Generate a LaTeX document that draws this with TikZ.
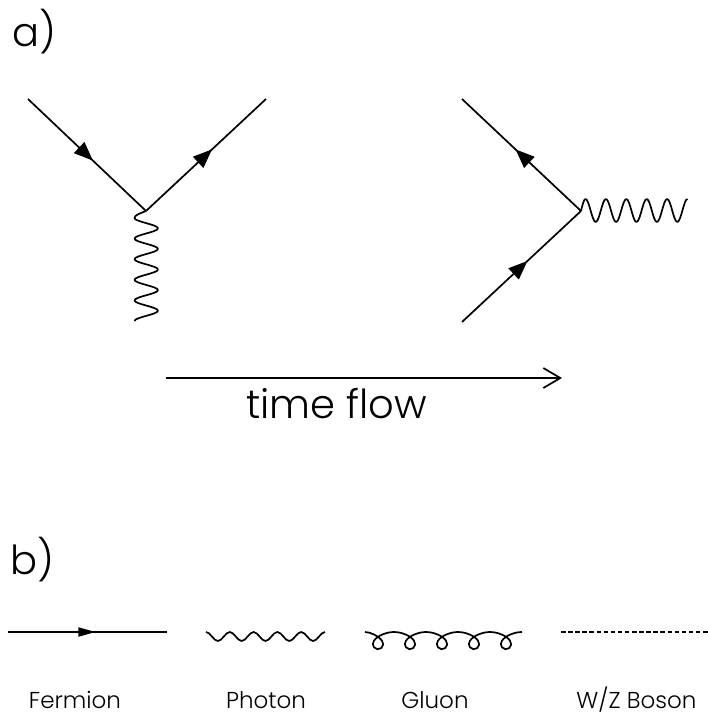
\documentclass[tikz,border=0pt]{standalone}
\usepackage{fontspec}
\setmainfont{Poppins}[UprightFont=* Light]
\usetikzlibrary{arrows.meta,decorations.markings}
\tikzset{
  prtcl/.style={black, line width=1.7pt, line join=round},
  fermion/.style={prtcl, postaction={decorate}, decoration={markings,
      mark=at position #1 with {\arrow{Triangle[length=19pt,width=15pt]}}}},
  fermionb/.style={prtcl, postaction={decorate}, decoration={markings,
      mark=at position #1 with {\arrow{Triangle[length=17pt,width=9pt]}}}},
  paneltxt/.style={inner sep=0pt, anchor=base west, font=\fontsize{40}{40}\selectfont},
  flowtxt/.style={inner sep=0pt, anchor=base west, font=\fontsize{40}{40}\selectfont},
  keytxt/.style={inner sep=0pt, anchor=base, font=\fontsize{23}{23}\selectfont},
}
\begin{document}
\begin{tikzpicture}[x=1pt,y=-1pt]
  \useasboundingbox (0,0) rectangle (708,715);
  \node[paneltxt] (lbla) at (12,46) {a)};
  \node[paneltxt] (lblb) at (10,574) {b)};
  % left vertex
  \coordinate (va) at (146,211);
  \coordinate (fa1) at (28,99);
  \coordinate (fa2) at (266,99);
  \coordinate (pa1) at (134.5,218);
  \draw[fermion=0.55] (fa1) -- (va);
  \draw[fermion=0.55] (va) -- (fa2);
  \draw[prtcl] (va) .. controls +(-6,2.5) and +(0,-3) .. (pa1) foreach \i in {1,...,5} {
    .. controls +(0,3.7) and +(0,-3.7) .. ++(23.5,10.3)
    .. controls +(0,3.7) and +(0,-3.7) .. ++(-23.5,10.3)};
  % right vertex
  \coordinate (vb) at (581,211);
  \coordinate (fb1) at (462,99);
  \coordinate (fb2) at (462,322);
  \coordinate (pb1) at (585.5,199);
  \draw[fermion=0.55] (vb) -- (fb1);
  \draw[fermion=0.55] (fb2) -- (vb);
  \draw[prtcl] (vb) sin (pb1) foreach \i in {1,...,5} {
    cos ++(5.1,11.5) sin ++(5.1,11.5) cos ++(5.1,-11.5) sin ++(5.1,-11.5)};
  % time arrow
  \coordinate (t1) at (166,378);
  \coordinate (t2) at (562,378);
  \draw[prtcl, -{Straight Barb[length=17pt,width=20pt]}] (t1) -- (t2);
  \node[flowtxt] (flow) at (246,418) {time flow};
  % legend
  \coordinate (k1a) at (8,632);
  \coordinate (k1b) at (167,632);
  \draw[fermionb=0.55] (k1a) -- (k1b);
  \node[keytxt] (k1) at (75,708) {Fermion};
  \coordinate (k2a) at (206,632);
  \draw[prtcl] (k2a) foreach \i in {1,...,5} {
    cos ++(5.95,4.5) sin ++(5.95,4.5) cos ++(5.95,-4.5) sin ++(5.95,-4.5)};
  \node[keytxt] (k2) at (266,708) {Photon};
  \coordinate (k3a) at (365,632);
  \draw[prtcl] (k3a) foreach \gx in {378,410,442,474,506} {
    .. controls (\gx-8,632) and (\gx+1,636) .. (\gx+4,640.7)
    arc[start angle=-40, end angle=220, radius=5.2]
    .. controls (\gx-1,636) and (\gx+8,632) .. (\gx+16,632)};
  \node[keytxt] (k3) at (435,708) {Gluon};
  \coordinate (k4a) at (561,632);
  \coordinate (k4b) at (708,632);
  \draw[prtcl, dash pattern=on 4.5pt off 2.6pt] (k4a) -- (k4b);
  \node[keytxt] (k4) at (636.5,708) {W/Z Boson};
\end{tikzpicture}
\end{document}
